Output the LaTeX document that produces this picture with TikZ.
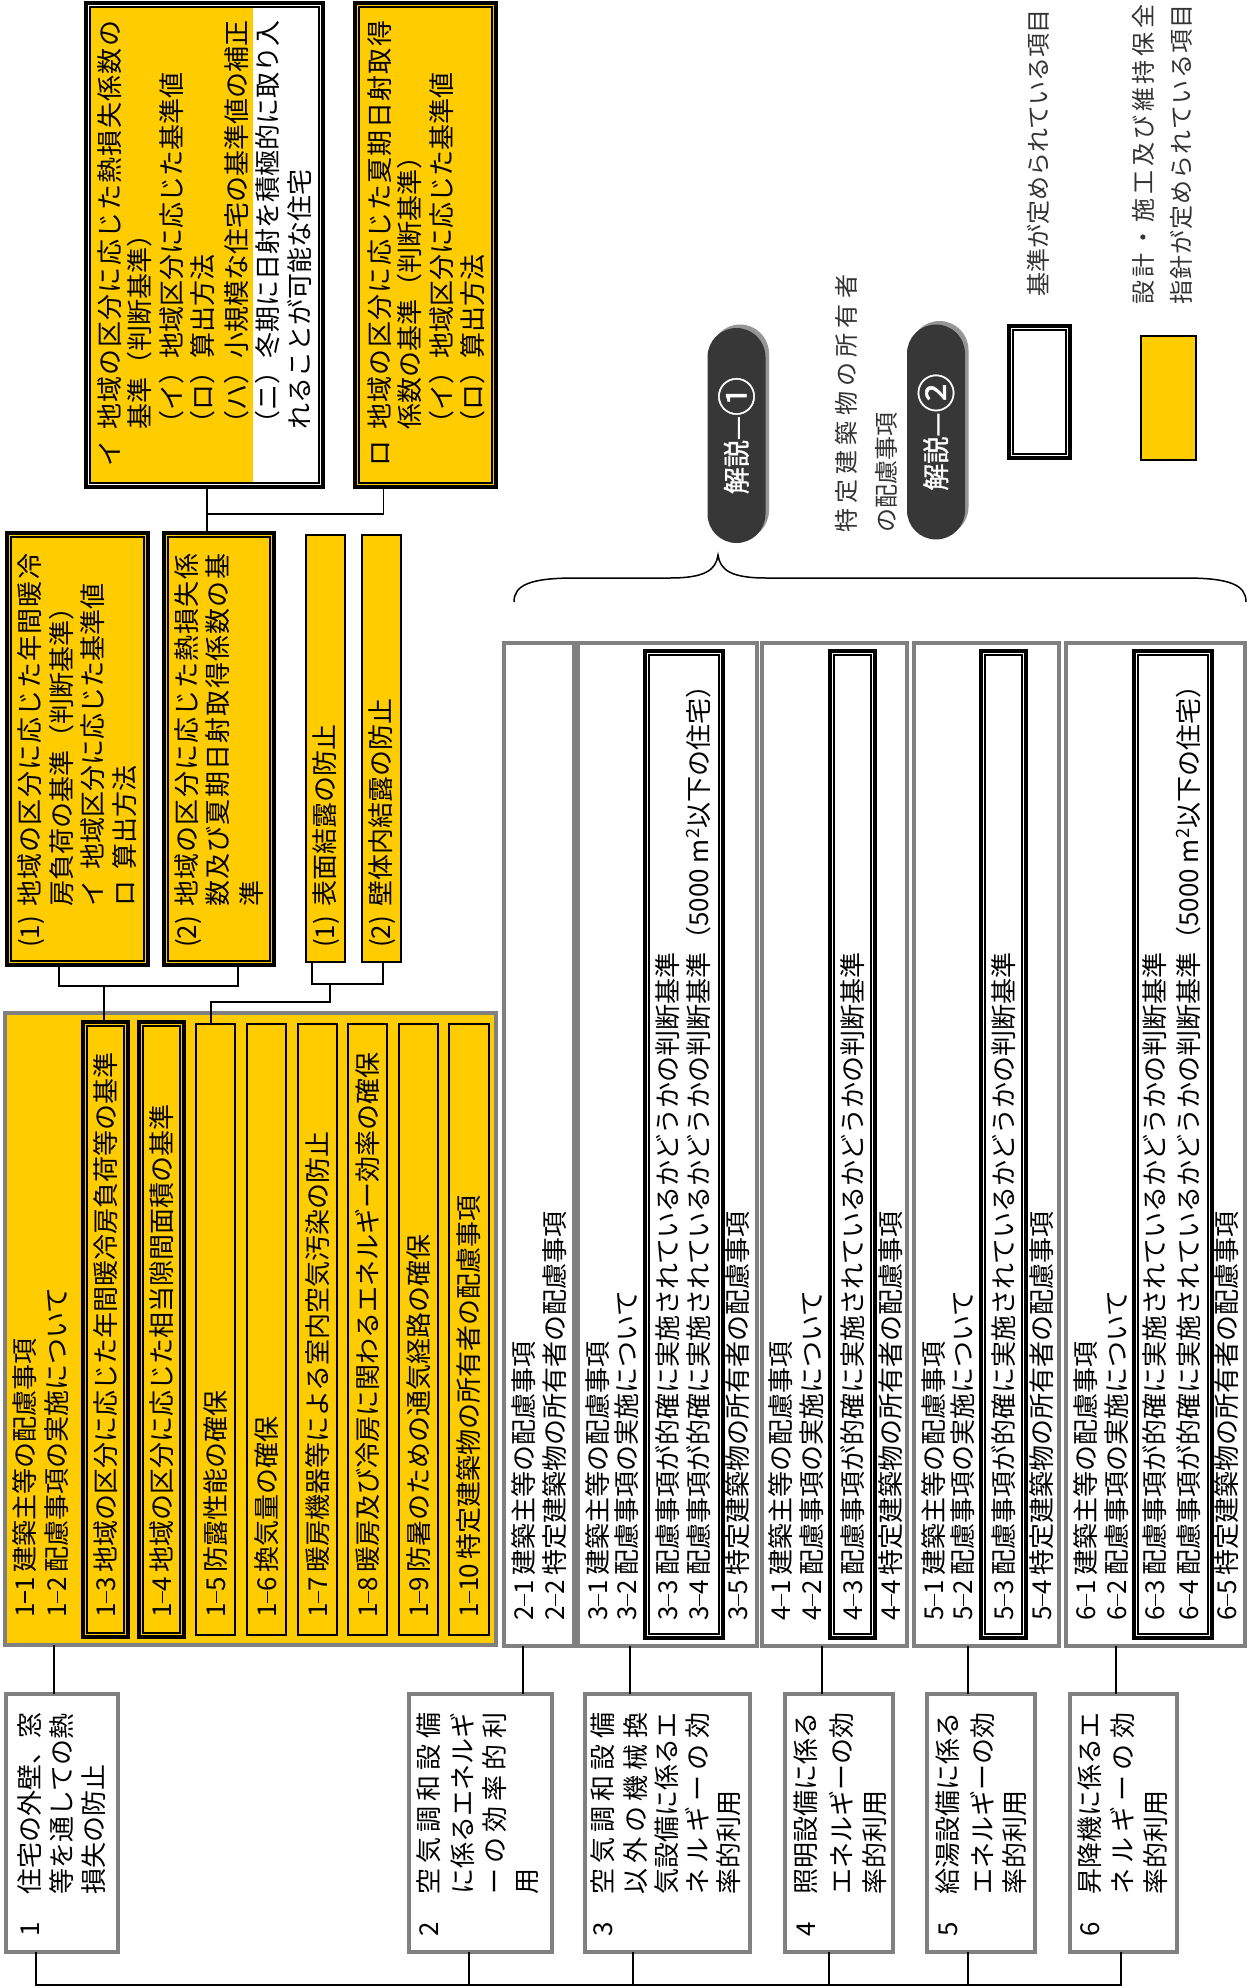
\documentclass[tikz,border=0pt]{standalone}
\usepackage{fontspec}
\usepackage{graphicx}
\setmainfont{Noto Sans CJK JP}
\newfontfamily\bubfont{Noto Sans CJK JP}[FakeBold=1.2]
\definecolor{ylw}{RGB}{255,204,0}
\definecolor{gry}{RGB}{128,128,128}
\definecolor{bub}{RGB}{55,55,55}
\definecolor{shd}{RGB}{150,150,150}
\newcommand\dsh{\makebox[13pt]{\rule[0.33em]{0.45em}{0.07em}}}
\newcommand\dg[1]{\makebox[13pt]{#1}}
\newcommand\pf[2]{\dg{#1}\dsh\dg{#2}\hspace{5pt}}
\newcommand\circd[1]{\raisebox{-0.18em}{\scalebox{1.45}{#1}}}
\def\dstEnd{}
\def\dstA#1{#1\dstB}
\def\dstB#1{\ifx\dstEnd#1\else\hfill#1\expandafter\dstB\fi}
\newcommand\distr[2]{\makebox[#1]{\dstA#2\dstEnd}}
\newcommand\hang[2]{\makebox[0pt][r]{#1\hspace{#2}}}
\newcommand\bx[6]{%
  \pgfmathsetmacro\bW{#5-#3}\pgfmathsetmacro\bH{#6-#4}%
  \pgfmathsetmacro\bX{(#3+#5)/2}\pgfmathsetmacro\bY{-(#4+#6)/2}%
  \node[#1, minimum width=\bW pt, minimum height=\bH pt, inner sep=0pt, outer sep=0pt] (#2) at (\bX pt,\bY pt) {};}
\newcommand\inr[1]{\draw[line width=1.1pt] ([shift={(4pt,-4pt)}]#1.north west) rectangle ([shift={(-4pt,4pt)}]#1.south east);}
\tikzset{
  txt/.style={rotate=90, anchor=west, inner sep=0pt, text height=22.9pt, text depth=3.1pt, font=\fontsize{26}{31}\selectfont},
  sm/.style={rotate=90, anchor=west, inner sep=0pt, text height=21.1pt, text depth=2.9pt, font=\fontsize{24}{29}\selectfont, text=black!80},
  gbox/.style={draw=gry, line width=4pt, fill=white},
  xbox/.style={draw=gry, line width=3.2pt, fill=white},
  ybox/.style={draw=black, line width=2pt, fill=ylw},
  dbox/.style={draw=black, line width=3.5pt},
  conn/.style={draw=black, line width=1.6pt},
  bubl/.style={rotate=90, fill=bub, text=white, rounded corners=29pt, minimum width=215pt, minimum height=58pt, inner sep=0pt, font=\bubfont\fontsize{27}{30}\selectfont},
  shdw/.style={rotate=90, fill=shd, rounded corners=29pt, minimum width=215pt, minimum height=58pt, inner sep=0pt},
}
\begin{document}
\begin{tikzpicture}[x=1pt,y=1pt]
\fill[white] (0,0) rectangle (1250,-1988);
\useasboundingbox (0,0) rectangle (1250,-1988);

% ---------- top boxes イ / ロ
\bx{dbox,fill=white}{bI}{86}{3}{323}{487}
\fill[ylw] ([shift={(4pt,-4pt)}]bI.north west) rectangle (253,-483);
\inr{bI}
\bx{dbox,fill=ylw}{bRo}{355}{3}{496}{487}
\inr{bRo}
\node[txt] (tI0) at (110,-430) {\hang{イ}{11pt}\distr{409pt}{地域の区分に応じた熱損失係数の}};
\node[txt] (tI1) at (140,-430) {基準（判断基準）};
\node[txt] (tI2) at (172,-437) {（イ）地域区分に応じた基準値};
\node[txt] (tI3) at (203,-437) {（ロ）算出方法};
\node[txt] (tI4) at (237,-437) {（ハ）小規模な住宅の基準値の補正};
\node[txt] (tI5) at (268,-437) {（ニ）冬期に日射を積極的に取り入};
\node[txt] (tI6) at (300,-430) {れることが可能な住宅};
\node[txt] (tR0) at (380,-430) {\hang{ロ}{11pt}\distr{409pt}{地域の区分に応じた夏期日射取得}};
\node[txt] (tR1) at (410,-430) {係数の基準（判断基準）};
\node[txt] (tR2) at (442,-437) {（イ）地域区分に応じた基準値};
\node[txt] (tR3) at (473,-437) {（ロ）算出方法};

% ---------- (1) (2) boxes
\bx{dbox,fill=ylw}{c1}{7}{533}{148}{965}
\inr{c1}
\bx{dbox,fill=ylw}{c2}{164}{533}{274}{965}
\inr{c2}
\bx{ybox}{d1}{306}{535}{345}{962}
\bx{ybox}{d2}{362}{535}{401}{962}
\node[txt] (tc10) at (30,-907) {\hang{(1)}{9pt}\distr{353pt}{地域の区分に応じた年間暖冷}};
\node[txt] (tc11) at (62,-907) {房負荷の基準（判断基準）};
\node[txt] (tc12) at (93,-907) {イ\hspace{11pt}地域区分に応じた基準値};
\node[txt] (tc13) at (125,-907) {ロ\hspace{11pt}算出方法};
\node[txt] (tc20) at (187,-907) {\hang{(2)}{9pt}\distr{353pt}{地域の区分に応じた熱損失係}};
\node[txt] (tc21) at (218,-907) {\distr{353pt}{数及び夏期日射取得係数の基}};
\node[txt] (tc22) at (252,-907) {準};
\node[txt] (td1) at (325,-907) {\hang{(1)}{9pt}表面結露の防止};
\node[txt] (td2) at (381,-907) {\hang{(2)}{9pt}壁体内結露の防止};

% ---------- big box 1-x
\bx{gbox,fill=ylw}{big}{5}{1013}{496}{1645}
\bx{dbox,fill=ylw}{s13}{83}{1022}{128}{1637}
\inr{s13}
\bx{dbox,fill=ylw}{s14}{139}{1022}{184}{1637}
\inr{s14}
\bx{ybox}{s15}{196}{1024}{235}{1635}
\bx{ybox}{s16}{247}{1024}{286}{1635}
\bx{ybox}{s17}{298}{1024}{337}{1635}
\bx{ybox}{s18}{348}{1024}{387}{1635}
\bx{ybox}{s19}{399}{1024}{438}{1635}
\bx{ybox}{s110}{449}{1024}{489}{1635}
\node[txt] (t11) at (25,-1617) {\pf{1}{1}建築主等の配慮事項};
\node[txt] (t12) at (57,-1617) {\pf{1}{2}配慮事項の実施について};
\node[txt] (t13) at (106,-1617) {\pf{1}{3}地域の区分に応じた年間暖冷房負荷等の基準};
\node[txt] (t14) at (162,-1617) {\pf{1}{4}地域の区分に応じた相当隙間面積の基準};
\node[txt] (t15) at (216,-1617) {\pf{1}{5}防露性能の確保};
\node[txt] (t16) at (267,-1617) {\pf{1}{6}換気量の確保};
\node[txt] (t17) at (318,-1617) {\pf{1}{7}暖房機器等による室内空気汚染の防止};
\node[txt] (t18) at (368,-1617) {\pf{1}{8}暖房及び冷房に関わるエネルギー効率の確保};
\node[txt] (t19) at (419,-1617) {\pf{1}{9}防暑のための通気経路の確保};
\node[txt] (t110) at (469,-1617) {\dg{1}\dsh\dg{1}\dg{0}\hspace{5pt}特定建築物の所有者の配慮事項};

% ---------- x boxes 2-x .. 6-x
\bx{xbox}{x2}{504}{643}{574}{1646}
\bx{xbox}{x3}{578}{643}{757}{1646}
\bx{xbox}{x4}{762}{643}{907}{1646}
\bx{xbox}{x5}{914}{643}{1059}{1646}
\bx{xbox}{x6}{1066}{643}{1245}{1646}
\bx{dbox,fill=white}{i3}{645}{651}{723}{1638}
\inr{i3}
\bx{dbox,fill=white}{i4}{830}{651}{875}{1638}
\inr{i4}
\bx{dbox,fill=white}{i5}{981}{651}{1026}{1638}
\inr{i5}
\bx{dbox,fill=white}{i6}{1134}{651}{1212}{1638}
\inr{i6}
\node[txt] (t21) at (524,-1620) {\pf{2}{1}建築主等の配慮事項};
\node[txt] (t22) at (555,-1620) {\pf{2}{2}特定建築物の所有者の配慮事項};
\node[txt] (t31) at (598,-1620) {\pf{3}{1}建築主等の配慮事項};
\node[txt] (t32) at (627,-1620) {\pf{3}{2}配慮事項の実施について};
\node[txt] (t33) at (668,-1620) {\pf{3}{3}配慮事項が的確に実施されているかどうかの判断基準};
\node[txt] (t34) at (699,-1620) {\pf{3}{4}配慮事項が的確に実施されているかどうかの判断基準（5000 m\textsuperscript{2}以下の住宅）};
\node[txt] (t35) at (738,-1620) {\pf{3}{5}特定建築物の所有者の配慮事項};
\node[txt] (t41) at (781,-1620) {\pf{4}{1}建築主等の配慮事項};
\node[txt] (t42) at (812,-1620) {\pf{4}{2}配慮事項の実施について};
\node[txt] (t43) at (853,-1620) {\pf{4}{3}配慮事項が的確に実施されているかどうかの判断基準};
\node[txt] (t44) at (891,-1620) {\pf{4}{4}特定建築物の所有者の配慮事項};
\node[txt] (t51) at (934,-1620) {\pf{5}{1}建築主等の配慮事項};
\node[txt] (t52) at (963,-1620) {\pf{5}{2}配慮事項の実施について};
\node[txt] (t53) at (1004,-1620) {\pf{5}{3}配慮事項が的確に実施されているかどうかの判断基準};
\node[txt] (t54) at (1042,-1620) {\pf{5}{4}特定建築物の所有者の配慮事項};
\node[txt] (t61) at (1086,-1620) {\pf{6}{1}建築主等の配慮事項};
\node[txt] (t62) at (1117,-1620) {\pf{6}{2}配慮事項の実施について};
\node[txt] (t63) at (1155,-1620) {\pf{6}{3}配慮事項が的確に実施されているかどうかの判断基準};
\node[txt] (t64) at (1189,-1620) {\pf{6}{4}配慮事項が的確に実施されているかどうかの判断基準（5000 m\textsuperscript{2}以下の住宅）};
\node[txt] (t65) at (1227,-1620) {\pf{6}{5}特定建築物の所有者の配慮事項};

% ---------- category boxes
\bx{gbox}{b1}{6}{1694}{118}{1952}
\bx{gbox}{b2}{409}{1694}{552}{1952}
\bx{gbox}{b3}{585}{1694}{750}{1952}
\bx{gbox}{b4}{785}{1694}{893}{1952}
\bx{gbox}{b5}{927}{1694}{1035}{1952}
\bx{gbox}{b6}{1070}{1694}{1177}{1952}
\node[txt] (tb10) at (30,-1895) {\hang{1}{27pt}住宅の外壁、窓};
\node[txt] (tb11) at (62,-1895) {等を通しての熱};
\node[txt] (tb12) at (94,-1895) {損失の防止};
\node[txt] (tb20) at (429,-1895) {\hang{2}{27pt}\distr{182pt}{空気調和設備}};
\node[txt] (tb21) at (463,-1895) {に係るエネルギ};
\node[txt] (tb22) at (495,-1895) {\distr{182pt}{ーの効率的利}};
\node[txt] (tb23) at (527,-1895) {用};
\node[txt] (tb30) at (603,-1895) {\hang{3}{27pt}\distr{182pt}{空気調和設備}};
\node[txt] (tb31) at (636,-1895) {\distr{182pt}{以外の機械換}};
\node[txt] (tb32) at (667,-1895) {気設備に係るエ};
\node[txt] (tb33) at (698,-1895) {\distr{182pt}{ネルギーの効}};
\node[txt] (tb34) at (729,-1895) {率的利用};
\node[txt] (tb40) at (806,-1895) {\hang{4}{27pt}照明設備に係る};
\node[txt] (tb41) at (842,-1895) {エネルギーの効};
\node[txt] (tb42) at (875,-1895) {率的利用};
\node[txt] (tb50) at (948,-1895) {\hang{5}{27pt}給湯設備に係る};
\node[txt] (tb51) at (983,-1895) {エネルギーの効};
\node[txt] (tb52) at (1015,-1895) {率的利用};
\node[txt] (tb60) at (1090,-1895) {\hang{6}{27pt}昇降機に係るエ};
\node[txt] (tb61) at (1123,-1895) {\distr{182pt}{ネルギーの効}};
\node[txt] (tb62) at (1156,-1895) {率的利用};

% ---------- connectors
\coordinate (jI) at (207,-514);
\draw[conn] (bI.south -| jI) -- (jI) -| ([xshift=-42pt]bRo.south);
\draw[conn] (jI) -- (c2.north -| jI);
\coordinate (jC) at (0,-986);
\draw[conn] ([xshift=-18.5pt]c1.south) -- ([xshift=-18.5pt]c1.south |- jC) -| ([xshift=19pt]c2.south);
\draw[conn] ([xshift=-1.5pt]s13.north) -- ([xshift=-1.5pt]s13.north |- jC);
\coordinate (jD) at (0,-984);
\coordinate (jD2) at (330,-1002);
\draw[conn] ([xshift=-13.5pt]d1.south) -- ([xshift=-13.5pt]d1.south |- jD) -| ([xshift=1.5pt]d2.south);
\draw[conn] (jD -| jD2) -- (jD2) -| ([xshift=-4.5pt]s15.north);
\draw[conn] ([xshift=-8pt]b1.north) -- ([xshift=-8pt]b1.north |- big.south);
\draw[conn] ([xshift=42.5pt]b2.north) -- ([xshift=42.5pt]b2.north |- x2.south);
\draw[conn] ([xshift=-37.5pt]b3.north) -- ([xshift=-37.5pt]b3.north |- x3.south);
\draw[conn] ([xshift=-17pt]b4.north) -- ([xshift=-17pt]b4.north |- x4.south);
\draw[conn] ([xshift=-13pt]b5.north) -- ([xshift=-13pt]b5.north |- x5.south);
\draw[conn] ([xshift=-7.5pt]b6.north) -- ([xshift=-7.5pt]b6.north |- x6.south);
\coordinate (bus) at (0,-1985);
\draw[conn] ([xshift=-26pt]b1.south) -- ([xshift=-26pt]b1.south |- bus) -- ([xshift=-2.5pt]b6.south |- bus) -- ([xshift=-2.5pt]b6.south);
\draw[conn] ([xshift=-11.5pt]b2.south) -- ([xshift=-11.5pt]b2.south |- bus);
\draw[conn] ([xshift=-34.5pt]b3.south) -- ([xshift=-34.5pt]b3.south |- bus);
\draw[conn] ([xshift=-10pt]b4.south) -- ([xshift=-10pt]b4.south |- bus);
\draw[conn] ([xshift=-13pt]b5.south) -- ([xshift=-13pt]b5.south |- bus);

% ---------- brace
\draw[line width=1.5pt] (514,-602) .. controls (514,-585) and (530,-578) .. (575,-578) -- (670,-578) .. controls (705,-578) and (716,-570) .. (718,-555) .. controls (720,-570) and (731,-578) .. (766,-578) -- (1185,-578) .. controls (1230,-578) and (1246,-585) .. (1246,-602);

% ---------- explanation bubbles
\node[shdw] (k1s) at (740,-432) {};
\node[bubl] (k1) at (736.5,-435.5) {解説—\circd{①}};
\node[shdw] (k2s) at (939.5,-428.5) {};
\node[bubl] (k2) at (936,-432) {解説—\circd{②}};
\node[sm] (ex1) at (846,-533) {\distr{258pt}{特定建築物の所有者}};
\node[sm] (ex2) at (886,-533) {の配慮事項};

% ---------- legend
\bx{dbox,fill=white}{lg1}{1009}{326}{1070}{458}
\inr{lg1}
\bx{ybox,line width=1.5pt}{lg2}{1141}{336}{1196}{460}
\node[sm] (lt1) at (1038,-297) {基準が定められている項目};
\node[sm] (lt2) at (1143,-305) {\distr{300pt}{設計・施工及び維持保全}};
\node[sm] (lt3) at (1181,-305) {\distr{300pt}{指針が定められている項目}};
\end{tikzpicture}
\end{document}
